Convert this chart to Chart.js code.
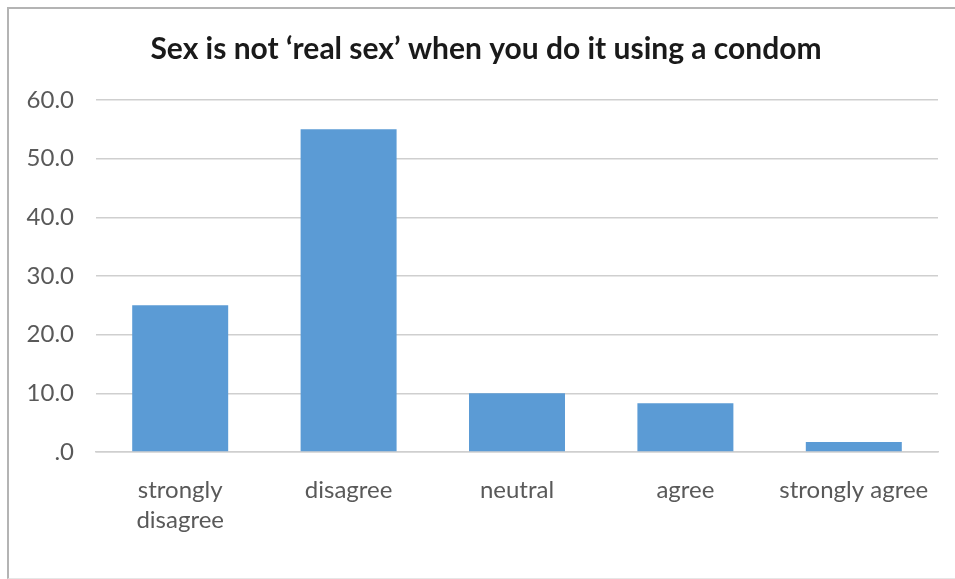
<!DOCTYPE html>
<html>
<head>
<meta charset="utf-8">
<script src="https://cdn.jsdelivr.net/npm/chart.js@4.4.1/dist/chart.umd.min.js"></script>
<style>
  html, body { margin: 0; padding: 0; background: #fff; }
  .frame {
    position: absolute;
    left: 7px; top: 7px;
    width: 960px; height: 569px;
    border-left: 2px solid #b4b4b4;
    border-top: 2px solid #b4b4b4;
    border-bottom: 1px solid #e6e6e6;
  }
  .wrap { position: absolute; left: 0; top: 0; width: 955px; height: 579px; }
</style>
</head>
<body>
<div class="frame"></div>
<div class="wrap"><canvas id="grafico"></canvas></div>
<script>
// ----- Dados -----
const categorias = [['strongly', 'disagree'], 'disagree', 'neutral', 'agree', 'strongly agree'];
const percentuais = [25.0, 55.0, 10.0, 8.3, 1.7];
const titulo = 'Sex is not \u2018real sex\u2019 when you do it using a condom';

const fonte = 'Lato, "Open Sans", sans-serif';

const ctx = document.getElementById('grafico').getContext('2d');

// centraliza o título um pouco mais à direita (área do gráfico sem os rótulos)
const deslocaTitulo = {
  id: 'deslocaTitulo',
  afterLayout: chart => {
    chart.titleBlock.left += 34;
  }
};

new Chart(ctx, {
  type: 'bar',
  data: {
    labels: categorias,
    datasets: [{
      data: percentuais,
      backgroundColor: '#5b9bd5',
      borderWidth: 0,
      categoryPercentage: 0.57,
      barPercentage: 1.0
    }]
  },
  plugins: [deslocaTitulo],
  options: {
    responsive: true,
    maintainAspectRatio: false,
    animation: false,
    layout: { padding: { left: 0, right: 17, top: 0, bottom: 0 } },
    plugins: {
      legend: { display: false },
      tooltip: { enabled: false },
      title: {
        display: true,
        text: titulo,
        color: '#1a1a1a',
        font: { family: fonte, size: 30, weight: 'bold', lineHeight: 1.2 },
        padding: { top: 31, bottom: 33 }
      }
    },
    scales: {
      y: {
        min: 0,
        max: 60,
        ticks: {
          stepSize: 10,
          color: '#595959',
          padding: 22,
          font: { family: fonte, size: 24 },
          callback: v => v === 0 ? '.0' : v.toFixed(1)
        },
        grid: { color: '#cfcfcf', lineWidth: 1.5, drawTicks: false },
        border: { display: false },
        afterFit: s => { s.width = 96; }
      },
      x: {
        ticks: {
          color: '#595959',
          padding: 23,
          maxRotation: 0,
          autoSkip: false,
          font: { family: fonte, size: 24, lineHeight: 1.25 }
        },
        grid: { display: false, drawTicks: false },
        border: { color: '#cfcfcf', width: 1.5 },
        afterFit: s => { s.height = 127; }
      }
    }
  }
});
</script>
</body>
</html>
